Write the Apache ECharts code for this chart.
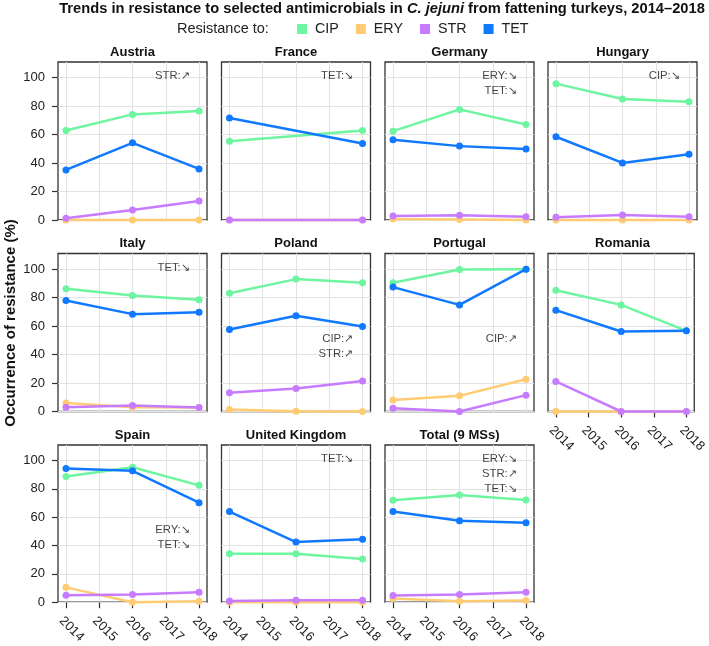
<!DOCTYPE html>
<html><head><meta charset="utf-8">
<script src="https://cdn.jsdelivr.net/npm/echarts@6/dist/echarts.min.js"></script>
<style>html,body{margin:0;padding:0;background:#fff}#c{width:709px;height:646px}</style>
</head><body><div id="c"></div>
<script>
// ---------- data ----------
const years = [2014, 2016, 2018];
const xTicks = [2014, 2015, 2016, 2017, 2018];
const yTicks = [0, 20, 40, 60, 80, 100];
const panels = ['Austria','France','Germany','Hungary','Italy','Poland','Portugal','Romania','Spain','United Kingdom','Total (9 MSs)'];
const drugs = ['CIP','ERY','STR','TET'];
const CIP = [
  [62.9, 74.2, 76.5], [55.4, null, 62.9], [62.4, 77.7, 67.1], [95.8, 85.0, 83.1],
  [86.2, 81.5, 78.5], [83.1, 93.0, 90.4], [90.4, 99.8, 100], [85.2, 74.9, 56.7],
  [88.8, 95.3, 82.5], [34.3, 34.3, 30.6], [72.0, 75.7, 72.2]
];
const ERY = [
  [0, 0, 0], [0, null, 0], [0.7, 0.4, 0], [0, 0, 0],
  [5.9, 3.0, 2.8], [1.4, 0.2, 0], [8.0, 11.0, 22.7], [0, 0, 0],
  [10.5, 0, 0.7], [0, 0, 0], [2.6, 0.7, 1.2]
];
const STR = [
  [1.2, 7.0, 13.4], [0, null, 0], [2.8, 3.3, 2.3], [1.9, 3.5, 2.3],
  [3.0, 4.2, 2.8], [13.1, 16.2, 21.5], [2.3, 0, 11.5], [21.1, 0, 0],
  [4.9, 5.4, 7.0], [0.9, 1.4, 1.4], [4.7, 5.4, 7.0]
];
const TET = [
  [35.2, 54.2, 35.9], [71.6, null, 53.8], [56.3, 51.9, 49.8], [58.5, 40.1, 46.2],
  [78.0, 68.4, 69.8], [57.6, 67.2, 59.7], [87.4, 74.9, 100], [71.2, 56.2, 56.7],
  [94.4, 92.8, 70.3], [64.0, 42.5, 44.4], [64.0, 57.5, 56.1]
];
const notes = [
  ['STR:↗'], ['TET:↘'], ['ERY:↘','TET:↘'], ['CIP:↘'],
  ['TET:↘'], ['CIP:↗','STR:↗'], ['CIP:↗'], [],
  ['ERY:↘','TET:↘'], ['TET:↘'], ['ERY:↘','STR:↗','TET:↘']
];
const noteTopY = [101, 101, 101, 101, 101, 51, 51, null, 51, 101, 101];
const noteX = 2017.72;
const noteStep = 10.5;

// ---------- layout / style ----------
const FONT = '"Liberation Sans", Arial, Helvetica, sans-serif';
const colLeft = [58, 221.5, 385, 548];
const rowTop = [62, 253.5, 445];
const pw = 149, ph = 158;
const colors = { CIP: '#6EF5A0', ERY: '#FFCC74', STR: '#C77CFF', TET: '#1079FF' };
const series_by_drug = { CIP: CIP, ERY: ERY, STR: STR, TET: TET };
const bottomPanels = [7, 8, 9, 10];
const gridColor = '#E2E2E2';

const grids = [], xAxes = [], yAxes = [], series = [], graphics = [];
panels.forEach((name, i) => {
  const r = Math.floor(i / 4), c = i % 4;
  const left = colLeft[c], top = rowTop[r];
  const isBottom = bottomPanels.includes(i);
  const isLeft = c === 0;
  grids.push({ left: left, top: top, width: pw, height: ph, show: true,
    borderColor: '#333', borderWidth: 1.3, backgroundColor: 'transparent', z: 0 });
  xAxes.push({ gridIndex: i, type: 'value', min: 2013.76, max: 2018.24,
    minInterval: 1, maxInterval: 1,
    axisLine: { show: false },
    axisTick: { show: isBottom, customValues: xTicks, length: 6, lineStyle: { color: '#333', width: 1.2 } },
    axisLabel: { show: isBottom, customValues: xTicks, rotate: -45, fontSize: 13, color: '#222',
      margin: 12, align: 'left', verticalAlign: 'top', fontFamily: FONT, formatter: v => String(v) },
    splitLine: { show: true, lineStyle: { color: gridColor, width: 1 } } });
  yAxes.push({ gridIndex: i, type: 'value', min: 0, max: 111, interval: 20,
    axisLine: { show: false },
    axisTick: { show: isLeft, customValues: yTicks, length: 6, lineStyle: { color: '#333', width: 1.2 } },
    axisLabel: { show: isLeft, customValues: yTicks, fontSize: 13, color: '#222', margin: 13, fontFamily: FONT },
    splitLine: { show: true, lineStyle: { color: gridColor, width: 1 } } });
  drugs.forEach((d, k) => {
    const vals = series_by_drug[d][i];
    const data = years.map((y, j) => [y, vals[j]]).filter(p => p[1] != null);
    series.push({ type: 'line', name: d, xAxisIndex: i, yAxisIndex: i, data: data,
      symbol: 'circle', symbolSize: 7, showSymbol: true, clip: false,
      lineStyle: { width: 2.5, color: colors[d] }, itemStyle: { color: colors[d] },
      emphasis: { disabled: true }, animation: false, z: 3 + k });
  });
  if (notes[i].length) {
    series.push({ type: 'scatter', name: 'note', xAxisIndex: i, yAxisIndex: i, silent: true,
      symbolSize: 1, itemStyle: { color: 'rgba(0,0,0,0)' }, animation: false, z: 10,
      data: notes[i].map((t, k) => ({ value: [noteX, noteTopY[i] - k * noteStep],
        label: { formatter: t } })),
      label: { show: true, position: 'inside', align: 'right', verticalAlign: 'middle',
        fontSize: 11.3, color: '#111', fontFamily: FONT } });
  }
  graphics.push({ type: 'text', x: left + pw / 2, y: top - 10,
    style: { text: name, font: 'bold 13px ' + FONT, fill: '#111', align: 'center', verticalAlign: 'middle' } });
});

graphics.push({ type: 'text', x: 382, y: 9,
  style: { text: 'Trends in resistance to selected antimicrobials in {i|C. jejuni} from fattening turkeys, 2014\u20132018',
    font: 'bold 14.7px ' + FONT, fill: '#111', align: 'center', verticalAlign: 'middle',
    rich: { i: { fontStyle: 'italic', fontWeight: 'bold', fontSize: 14.7, fontFamily: FONT, fill: '#111' } } } });
graphics.push({ type: 'text', x: 177, y: 28.5,
  style: { text: 'Resistance to:', font: '14.5px ' + FONT, fill: '#222', align: 'left', verticalAlign: 'middle' } });
graphics.push({ type: 'text', x: 11, y: 323, rotation: Math.PI / 2,
  style: { text: 'Occurrence of resistance (%)', font: 'bold 15px ' + FONT, fill: '#111', align: 'center', verticalAlign: 'middle' } });

const chart = echarts.init(document.getElementById('c'), null, { renderer: 'canvas' });
chart.setOption({
  animation: false,
  backgroundColor: '#fff',
  textStyle: { fontFamily: FONT },
  legend: { data: drugs, left: 297, top: 22, padding: 0, icon: 'rect', itemWidth: 10, itemHeight: 10, itemGap: 17,
    selectedMode: false, textStyle: { fontSize: 14.3, color: '#222', padding: [0, 0, 0, 3], fontFamily: FONT } },
  grid: grids, xAxis: xAxes, yAxis: yAxes, series: series, graphic: graphics
});
</script></body></html>
